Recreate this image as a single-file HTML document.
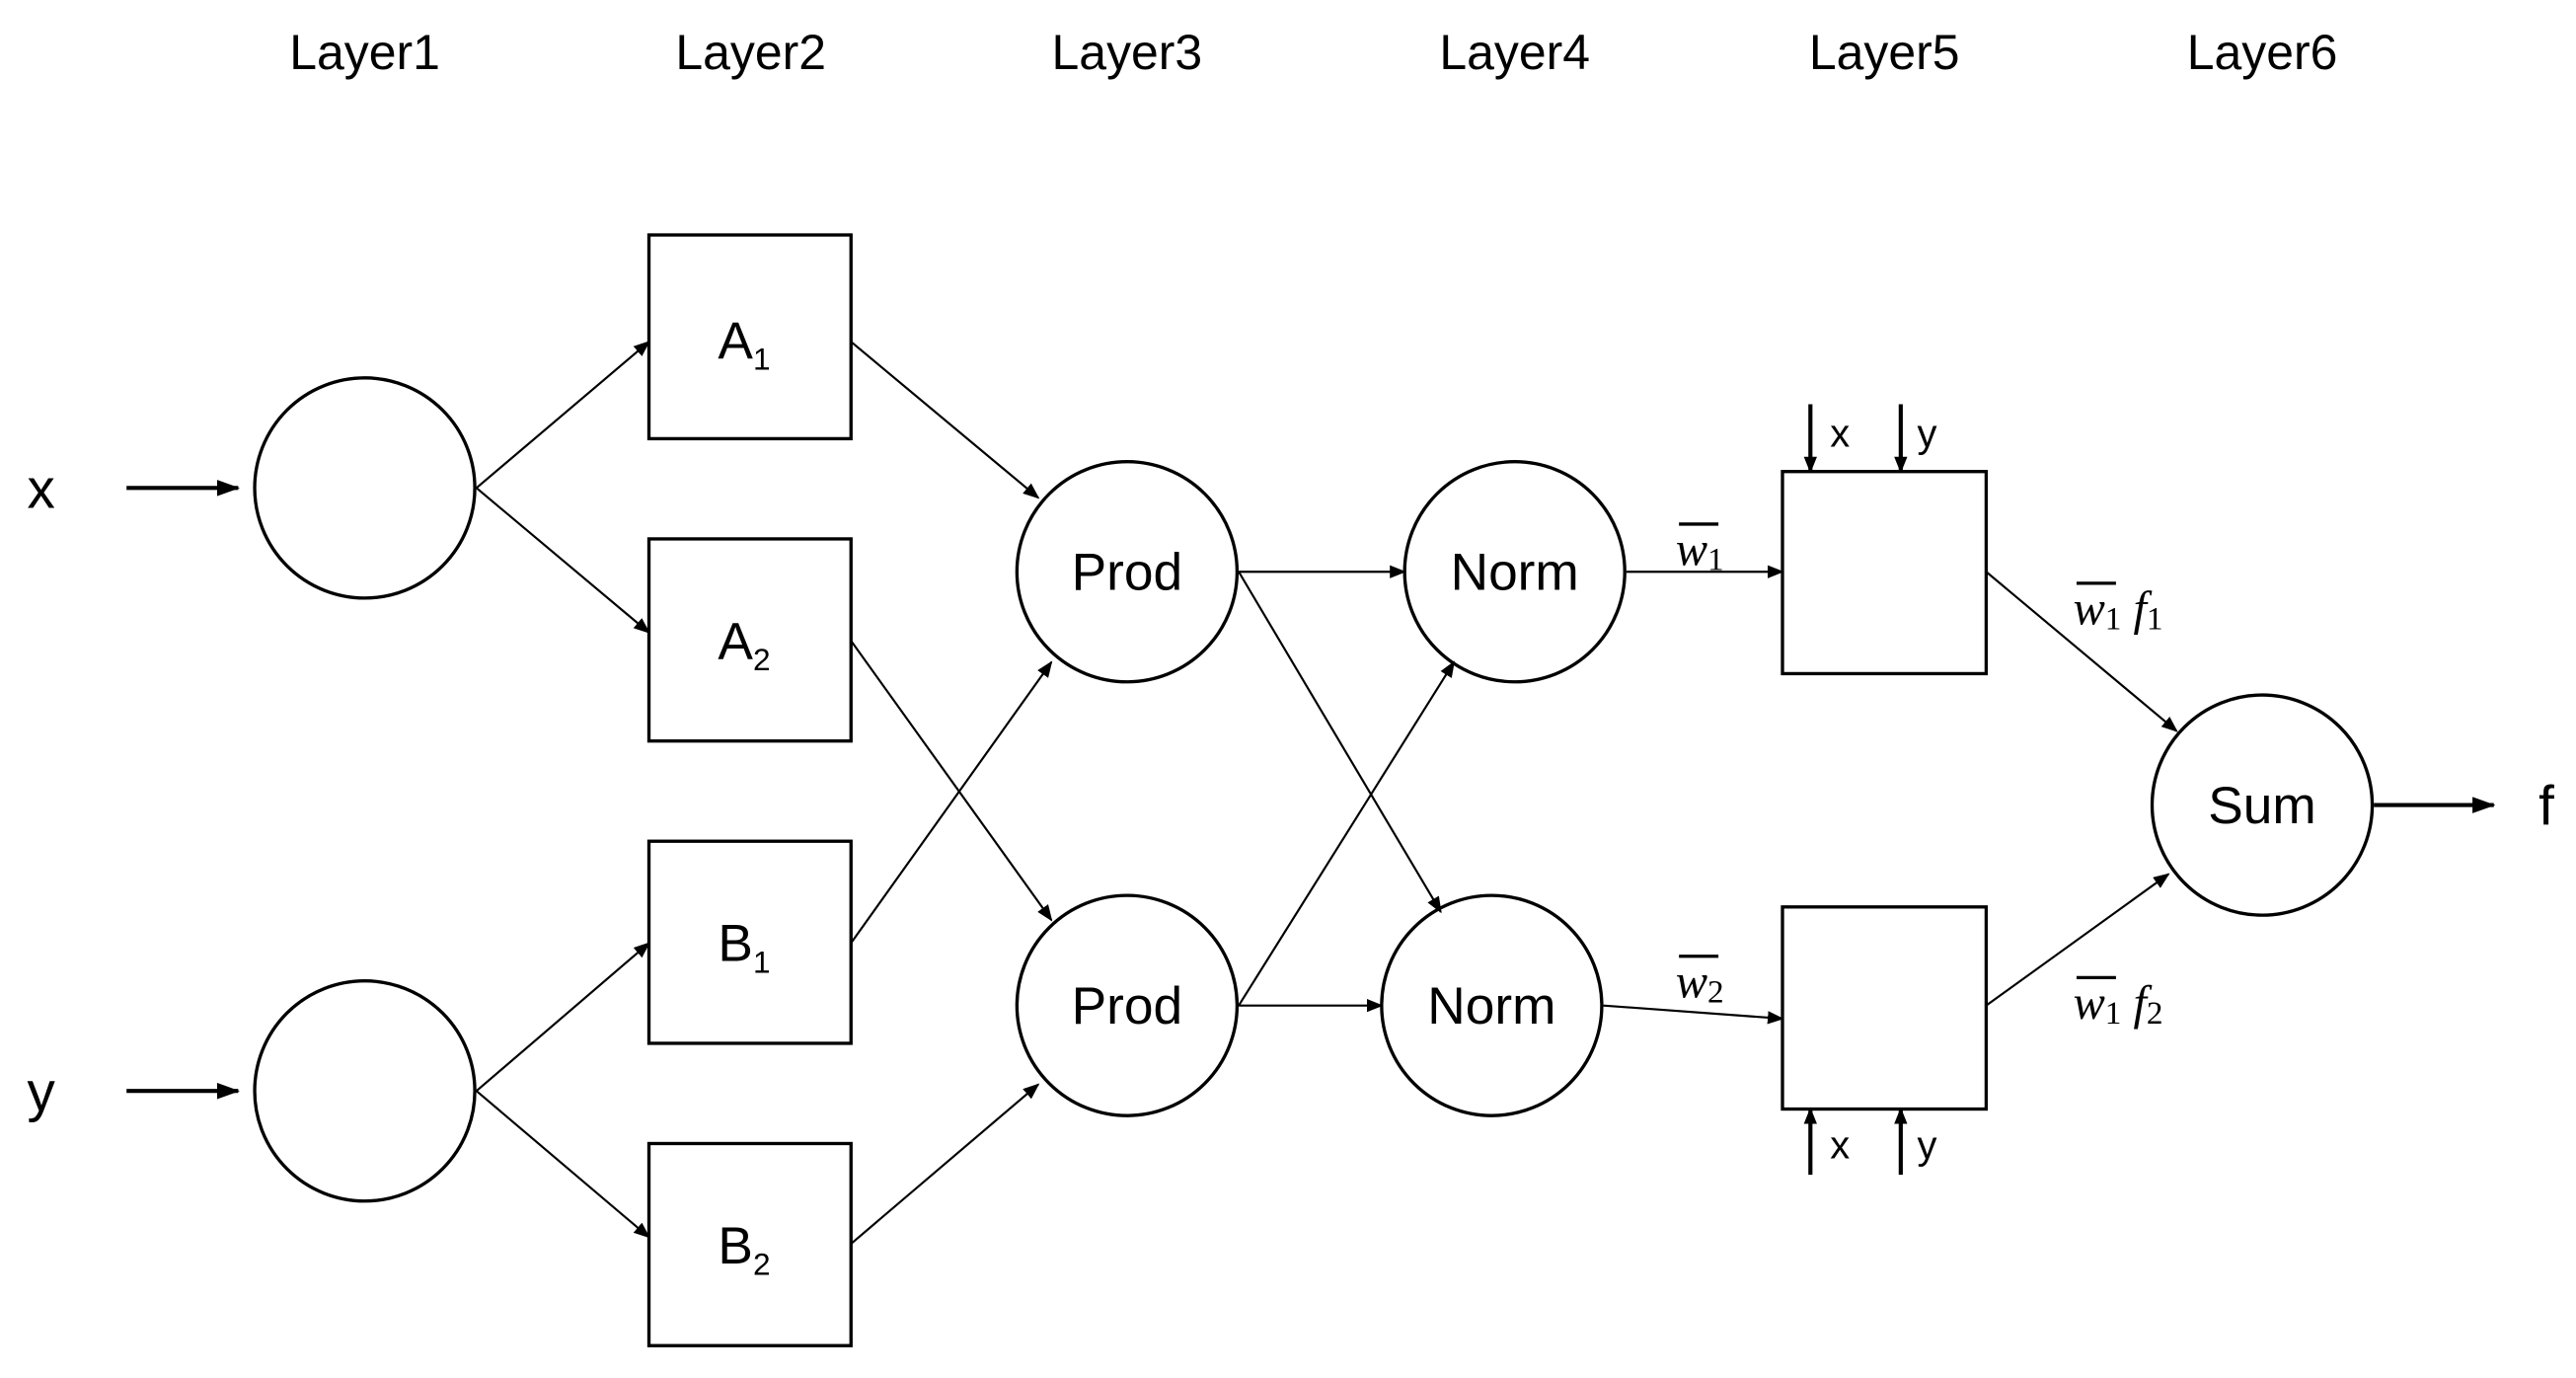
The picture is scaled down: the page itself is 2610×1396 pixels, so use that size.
<!DOCTYPE html>
<html><head><style>html,body{margin:0;padding:0;background:#fff}svg{display:block}</style></head>
<body>
<svg width="2610" height="1396" viewBox="0 0 1568 838.7" xmlns="http://www.w3.org/2000/svg" font-family="Liberation Sans, sans-serif">
<defs><marker id="a" markerWidth="10" markerHeight="8" refX="9" refY="4" orient="auto" markerUnits="userSpaceOnUse"><path d="M0,0 L10,4 L0,8 z" fill="#000"/></marker>
<marker id="b" markerWidth="14" markerHeight="10" refX="13" refY="5" orient="auto" markerUnits="userSpaceOnUse"><path d="M0,0 L14,5 L0,10 z" fill="#000"/></marker></defs>
<g font-size="30" text-anchor="middle">
<text x="222" y="42">Layer1</text><text x="457" y="42">Layer2</text><text x="686" y="42">Layer3</text>
<text x="922" y="42">Layer4</text><text x="1147" y="42">Layer5</text><text x="1377" y="42">Layer6</text>
</g>
<g fill="none" stroke="#000" stroke-width="2">
<circle cx="222" cy="297" r="67"/><circle cx="222" cy="664" r="67"/>
<rect x="395" y="143" width="123" height="124"/><rect x="395" y="328" width="123" height="123"/>
<rect x="395" y="512" width="123" height="123"/><rect x="395" y="696" width="123" height="123"/>
<circle cx="686" cy="348" r="67"/><circle cx="686" cy="612" r="67"/>
<circle cx="922" cy="348" r="67"/><circle cx="908" cy="612" r="67"/>
<rect x="1085" y="287" width="124" height="123"/><rect x="1085" y="552" width="124" height="123"/>
<circle cx="1377" cy="490" r="67"/>
</g>
<g stroke="#000" stroke-width="2.5">
<line x1="77" y1="297" x2="145" y2="297" marker-end="url(#b)"/>
<line x1="77" y1="664" x2="145" y2="664" marker-end="url(#b)"/>
<line x1="1445" y1="490" x2="1518" y2="490" marker-end="url(#b)"/>
<line x1="1102" y1="246" x2="1102" y2="287" marker-end="url(#a)"/>
<line x1="1157" y1="246" x2="1157" y2="287" marker-end="url(#a)"/>
<line x1="1102" y1="715" x2="1102" y2="675" marker-end="url(#a)"/>
<line x1="1157" y1="715" x2="1157" y2="675" marker-end="url(#a)"/>
</g>
<g stroke="#000" stroke-width="1.3">
<line x1="290" y1="297" x2="395" y2="208" marker-end="url(#a)"/>
<line x1="290" y1="297" x2="395" y2="385" marker-end="url(#a)"/>
<line x1="290" y1="664" x2="395" y2="574" marker-end="url(#a)"/>
<line x1="290" y1="664" x2="395" y2="753" marker-end="url(#a)"/>
<line x1="518" y1="208" x2="632" y2="303" marker-end="url(#a)"/>
<line x1="518" y1="390" x2="640" y2="560" marker-end="url(#a)"/>
<line x1="518" y1="574" x2="640" y2="403" marker-end="url(#a)"/>
<line x1="518" y1="757" x2="632" y2="660" marker-end="url(#a)"/>
<line x1="754" y1="348" x2="855" y2="348" marker-end="url(#a)"/>
<line x1="754" y1="348" x2="877" y2="555" marker-end="url(#a)"/>
<line x1="754" y1="612" x2="885" y2="403" marker-end="url(#a)"/>
<line x1="754" y1="612" x2="841" y2="612" marker-end="url(#a)"/>
<line x1="990" y1="348" x2="1085" y2="348" marker-end="url(#a)"/>
<line x1="976" y1="612" x2="1085" y2="620" marker-end="url(#a)"/>
<line x1="1209" y1="348" x2="1325" y2="445" marker-end="url(#a)"/>
<line x1="1209" y1="612" x2="1320" y2="532" marker-end="url(#a)"/>
</g>
<g font-size="34" text-anchor="middle">
<text x="25" y="309">x</text><text x="25" y="676">y</text><text x="1550" y="502">f</text>
</g>
<g font-size="32" text-anchor="middle">
<text x="686" y="359">Prod</text><text x="686" y="623">Prod</text>
<text x="922" y="359">Norm</text><text x="908" y="623">Norm</text>
<text x="1377" y="501">Sum</text>
</g>
<g font-size="32">
<text x="437" y="218">A<tspan font-size="19" dy="7">1</tspan></text>
<text x="437" y="401">A<tspan font-size="19" dy="7">2</tspan></text>
<text x="437" y="585">B<tspan font-size="19" dy="7">1</tspan></text>
<text x="437" y="769">B<tspan font-size="19" dy="7">2</tspan></text>
</g>
<g font-size="24">
<text x="1114" y="272">x</text><text x="1167" y="272">y</text>
<text x="1114" y="705">x</text><text x="1167" y="705">y</text>
</g>
<g font-family="Liberation Serif, serif" font-size="29" font-style="italic">
<text x="1020" y="344">w<tspan font-size="20" font-style="normal" dy="3">1</tspan></text>
<text x="1020" y="607">w<tspan font-size="20" font-style="normal" dy="3">2</tspan></text>
<text x="1262" y="380">w<tspan font-size="20" font-style="normal" dy="3">1</tspan><tspan dy="-3"> f</tspan><tspan font-size="20" font-style="normal" dy="3">1</tspan></text>
<text x="1262" y="620">w<tspan font-size="20" font-style="normal" dy="3">1</tspan><tspan dy="-3"> f</tspan><tspan font-size="20" font-style="normal" dy="3">2</tspan></text>
</g>
<g stroke="#000" stroke-width="2">
<line x1="1022" y1="319" x2="1046" y2="319"/><line x1="1022" y1="582" x2="1046" y2="582"/>
<line x1="1264" y1="355" x2="1288" y2="355"/><line x1="1264" y1="595" x2="1288" y2="595"/>
</g>
</svg>
</body></html>
